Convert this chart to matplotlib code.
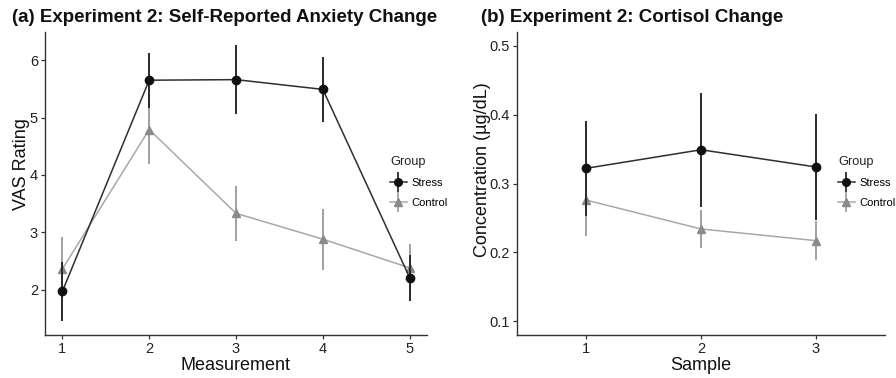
import matplotlib
matplotlib.use("Agg")
import matplotlib.pyplot as plt
from matplotlib.lines import Line2D
import numpy as np

plt.rcParams['font.family'] = ['Liberation Sans', 'DejaVu Sans']

# Panel (a): Self-reported anxiety (VAS)
measurement = [1, 2, 3, 4, 5]
vas_stress = [1.97, 5.65, 5.66, 5.49, 2.21]
vas_stress_err = [0.51, 0.48, 0.60, 0.57, 0.40]
vas_control = [2.36, 4.79, 3.33, 2.88, 2.38]
vas_control_err = [0.56, 0.60, 0.48, 0.53, 0.41]

# Panel (b): Cortisol
sample = [1, 2, 3]
cort_stress = [0.322, 0.349, 0.324]
cort_stress_err = [0.069, 0.083, 0.077]
cort_control = [0.276, 0.234, 0.217]
cort_control_err = [0.052, 0.028, 0.028]

groups = ["Stress", "Control"]

S_MK, S_LN, S_ER = '#111111', '#2e2e2e', '#2a2a2a'
C_MK, C_LN, C_ER = '#8a8a8a', '#a8a8a8', '#a0a0a0'

fig = plt.figure(figsize=(8.96, 3.78), dpi=100)
W, H = 896, 378

def ax_rect(x0, x1, y0, y1):
    return [x0 / W, 1 - y1 / H, (x1 - x0) / W, (y1 - y0) / H]

axA = fig.add_axes(ax_rect(45, 427, 32, 335))
axB = fig.add_axes(ax_rect(517, 885, 32, 335))

def draw(ax, x, s, se, c, ce):
    ax.errorbar(x, s, yerr=se, fmt='-o', color=S_LN, mfc=S_MK, mec=S_MK,
                ecolor=S_ER, elinewidth=1.4, capsize=0, lw=1.1, ms=6, zorder=4)
    ax.errorbar(x, c, yerr=ce, fmt='-^', color=C_LN, mfc=C_MK, mec=C_MK,
                ecolor=C_ER, elinewidth=1.4, capsize=0, lw=1.1, ms=6, zorder=3)
    for side in ['top', 'right']:
        ax.spines[side].set_visible(False)
    for side in ['left', 'bottom']:
        ax.spines[side].set_color('#333333')
        ax.spines[side].set_linewidth(1.0)
    ax.tick_params(axis='both', length=3, width=0.9, color='#333333',
                   labelsize=10.5, labelcolor='#222222', pad=2)

draw(axA, measurement, vas_stress, vas_stress_err, vas_control, vas_control_err)
axA.set_xlim(0.8, 5.2)
axA.set_ylim(1.21, 6.49)
axA.set_xticks(measurement)
axA.set_yticks([2, 3, 4, 5, 6])

draw(axB, sample, cort_stress, cort_stress_err, cort_control, cort_control_err)
axB.set_xlim(0.4, 3.6)
axB.set_ylim(0.08, 0.52)
axB.set_xticks(sample)
axB.set_yticks([0.1, 0.2, 0.3, 0.4, 0.5])
axB.set_yticklabels(['0.1', '0.2', '0.3', '0.4', '0.5'])

# Titles
fig.text(12 / W, 1 - 17 / H, "(a) Experiment 2: Self-Reported Anxiety Change",
         fontsize=13.5, fontweight='bold', va='center', ha='left', color='#111111')
fig.text(481 / W, 1 - 17 / H, "(b) Experiment 2: Cortisol Change",
         fontsize=13.5, fontweight='bold', va='center', ha='left', color='#111111')

# Axis labels
fig.text(235 / W, 1 - 366 / H, "Measurement", fontsize=13, ha='center', va='center', color='#111111')
fig.text(701 / W, 1 - 366 / H, "Sample", fontsize=13, ha='center', va='center', color='#111111')
fig.text(22 / W, 1 - 164 / H, "VAS Rating", fontsize=13, rotation=90, ha='center', va='center', color='#111111')
fig.text(482 / W, 1 - 170 / H, "Concentration (\u00b5g/dL)", fontsize=13, rotation=90,
         ha='center', va='center', color='#111111')

# Legend handles (point-range style keys)
def key(mk, mcol, lcol, ecol):
    h = Line2D([], [], color=lcol, lw=1.1, marker=mk, mfc=mcol, mec=mcol, ms=5.5)
    v = Line2D([], [], color=ecol, lw=0, marker='|', ms=14, mew=1.3, mec=ecol)
    return (v, h)

handles = [key('o', S_MK, S_LN, S_ER), key('^', C_MK, C_LN, C_ER)]

for x0 in [390, 838]:
    fig.text(x0 / W, 1 - 162 / H, "Group", fontsize=9.2, ha='left', va='center', color='#222222')
    leg = fig.legend(handles, groups, loc='center left',
                     bbox_to_anchor=(x0 / W, 1 - 193 / H), frameon=False,
                     fontsize=8, handlelength=1.5, handletextpad=0.4, labelspacing=0.85,
                     borderaxespad=0, borderpad=0)

fig.savefig("out.png", dpi=100)
